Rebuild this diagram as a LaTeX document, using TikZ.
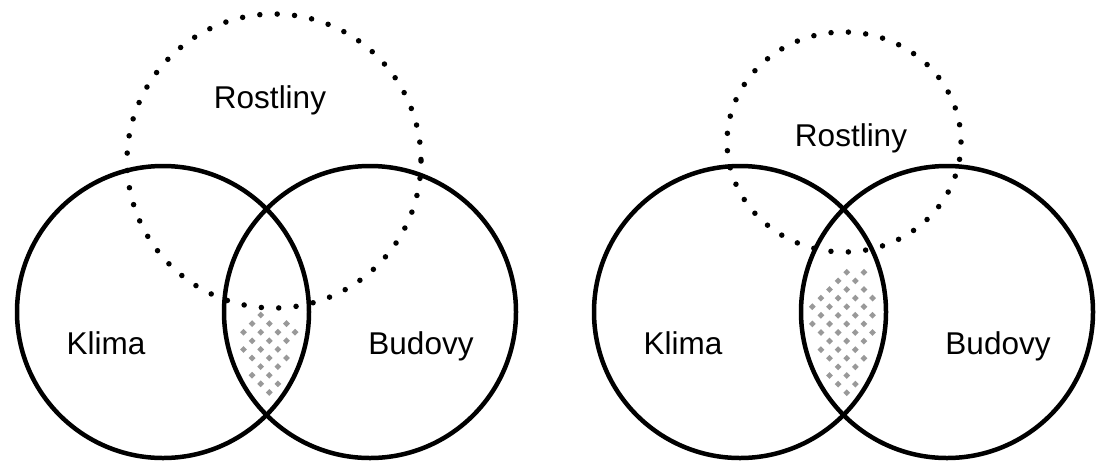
\documentclass[tikz,border=0pt]{standalone}
\usepackage{fontspec}
\setmainfont{Liberation Sans}
\begin{document}
\begin{tikzpicture}[x=1pt,y=-1pt,
  setcircle/.style={draw=black, line width=4.5pt},
  dotcircle/.style={draw=black, line width=5.5pt, line cap=round, dash pattern=on 0pt off 17.4pt},
  lbl/.style={font=\fontsize{31.5}{36}\selectfont, inner sep=0pt, anchor=base},
  hatchdot/.style={fill=black!40}]
\useasboundingbox (0,0) rectangle (1099,464);
% ---------- hatched regions ----------
\foreach \a in {-12,...,12}{
  \foreach \b in {-12,...,12}{
    \pgfmathsetmacro\px{260.7+8.6*\a-8.6*\b}
    \pgfmathsetmacro\py{315+8.6*\a+8.6*\b}
    \pgfmathsetmacro\dxk{(\px-163)/100}
    \pgfmathsetmacro\dxb{(\px-370)/100}
    \pgfmathsetmacro\dy{(\py-312)/100}
    \pgfmathsetmacro\dxr{(\px-274)/100}
    \pgfmathsetmacro\dyr{(\py-161)/100}
    \pgfmathsetmacro\top{\px<260.7 ? 313+0.95*(260.7-\px) : 313+0.3*(\px-260.7)}
    \pgfmathtruncatemacro\ok{((\dxk)*(\dxk)+(\dy)*(\dy)<1.85) && ((\dxb)*(\dxb)+(\dy)*(\dy)<1.85) && ((\dxr)*(\dxr)+(\dyr)*(\dyr)>2.31) && (\py>\top)}
    \ifnum\ok=1 \fill[hatchdot] (\px,\py) +(0,-3.4) -- +(3.4,0) -- +(0,3.4) -- +(-3.4,0) -- cycle; \fi
  }}
\foreach \a in {-12,...,12}{
  \foreach \b in {-12,...,12}{
    \pgfmathsetmacro\px{846.7+8.6*\a-8.6*\b}
    \pgfmathsetmacro\py{272.3+8.6*\a+8.6*\b}
    \pgfmathsetmacro\dxk{(\px-740)/100}
    \pgfmathsetmacro\dxb{(\px-947)/100}
    \pgfmathsetmacro\dy{(\py-312)/100}
    \pgfmathsetmacro\dxr{(\px-844)/131}
    \pgfmathsetmacro\dyr{(\py-142)/124}
    \pgfmathsetmacro\top{\px<846.7 ? 270+0.95*(846.7-\px) : 270-0.05*(\px-846.7)}
    \pgfmathtruncatemacro\ok{((\dxk)*(\dxk)+(\dy)*(\dy)<1.85) && ((\dxb)*(\dxb)+(\dy)*(\dy)<1.85) && ((\dxr)*(\dxr)+(\dyr)*(\dyr)>1) && (\py>\top)}
    \ifnum\ok=1 \fill[hatchdot] (\px,\py) +(0,-3.4) -- +(3.4,0) -- +(0,3.4) -- +(-3.4,0) -- cycle; \fi
  }}
% ---------- left diagram ----------
\draw[setcircle] (163,312) circle [radius=146];
\draw[setcircle] (370,312) circle [radius=146];
\draw[dotcircle] (274,161) circle [radius=147];
\node[lbl] (rostL) at (270,108) {Rostliny};
\node[lbl] (klimaL) at (106,354) {Klima};
\node[lbl] (budovyL) at (421,354) {Budovy};
% ---------- right diagram ----------
\draw[setcircle] (740,312) circle [radius=146];
\draw[setcircle] (947,312) circle [radius=146];
\draw[dotcircle] (844,142) ellipse [x radius=117, y radius=110];
\node[lbl] (rostR) at (851,146) {Rostliny};
\node[lbl] (klimaR) at (683,354) {Klima};
\node[lbl] (budovyR) at (998,354) {Budovy};
\end{tikzpicture}
\end{document}
